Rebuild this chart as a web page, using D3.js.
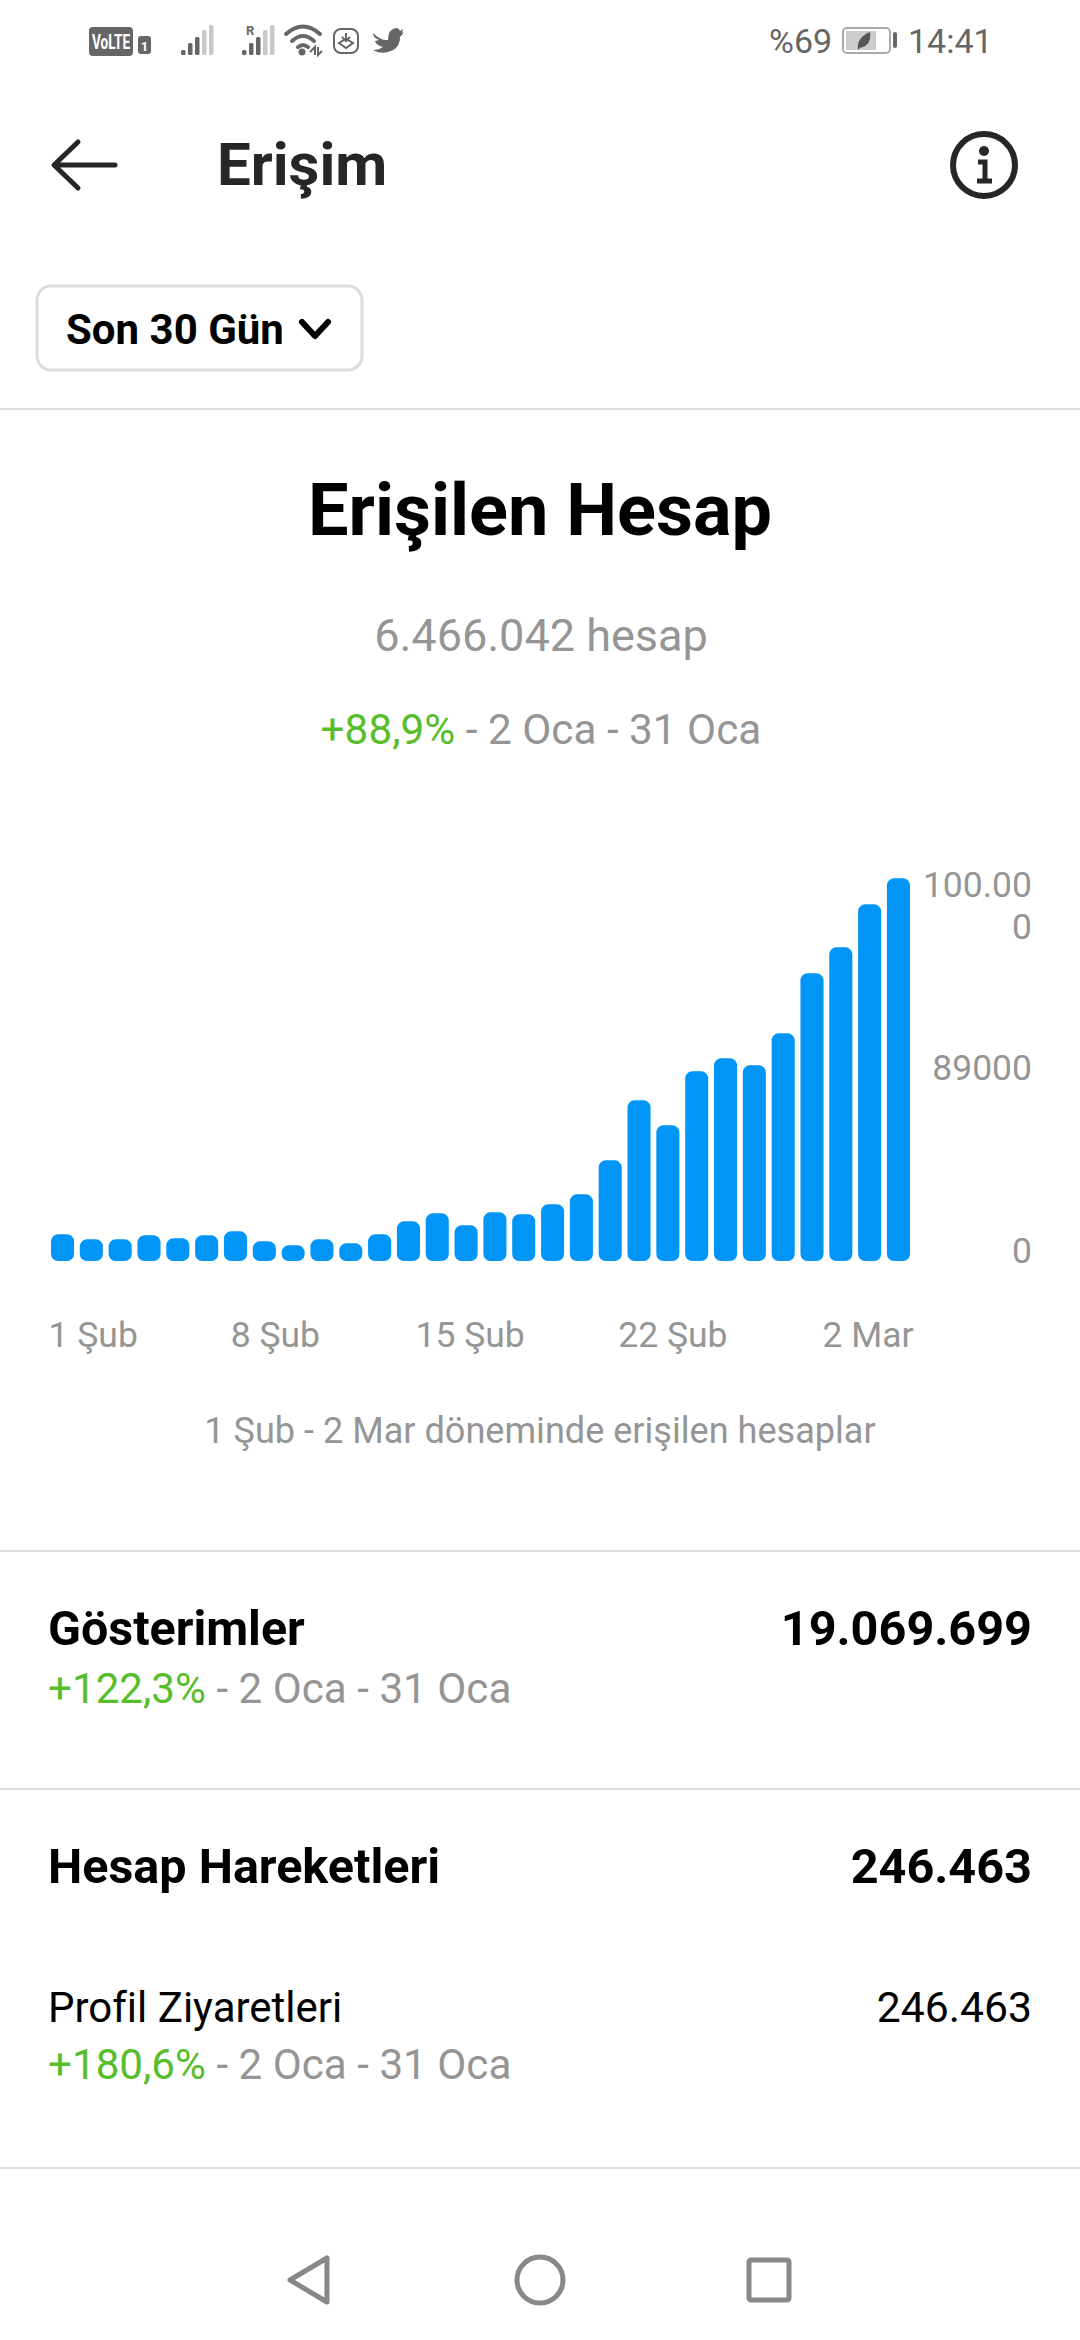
<!DOCTYPE html>
<html lang="tr">
<head>
<meta charset="utf-8">
<title>Erişim</title>
<script src="https://cdn.jsdelivr.net/npm/d3@7"></script>
<style>
  html, body { margin: 0; padding: 0; background: #fff; }
  svg { display: block; font-family: Roboto, sans-serif; }
  .gray { fill: #959595; }
  .green { fill: #58bd2a; }
  .axis path, .axis line { display: none; }
  .axis text { fill: #959595; font-size: 35.5px; font-family: Roboto, sans-serif; }
</style>
</head>
<body>
<div id="chart"></div>
<script>
// degerler
const days = ["1 Şub","2 Şub","3 Şub","4 Şub","5 Şub","6 Şub","7 Şub","8 Şub","9 Şub","10 Şub",
  "11 Şub","12 Şub","13 Şub","14 Şub","15 Şub","16 Şub","17 Şub","18 Şub","19 Şub","20 Şub",
  "21 Şub","22 Şub","23 Şub","24 Şub","25 Şub","26 Şub","27 Şub","28 Şub","1 Mar","2 Mar"];
const reach = [12970,10540,10540,12480,11020,12480,14430,9560,7620,10540,
  8590,12970,19290,23180,17340,23670,22690,27560,32420,48950,
  78130,65970,92230,98560,95150,110710,139890,152530,173450,186090];
const xTicks = ["1 Şub","8 Şub","15 Şub","22 Şub","2 Mar"];
const yTicks = [0,89000,178000];
const yLabels = ["0","89000","100.000"];

const width = 1080, height = 2340;
const svg = d3.select("#chart").append("svg")
  .attr("width", width).attr("height", height);

const x = d3.scaleBand().domain(days).range([51,910]).paddingInner(0.2);
const y = d3.scaleLinear().domain([0,178000]).range([1261,895]);

function label(txt, px, py, size, opts = {}) {
  return svg.append("text").attr("x", px).attr("y", py)
    .attr("font-size", size)
    .attr("font-weight", opts.weight || 400)
    .attr("fill", opts.fill || "#000")
    .attr("text-anchor", opts.anchor || "start")
    .text(txt);
}

function delta(pct, px, py, size, anchor) {
  const t = svg.append("text").attr("x", px).attr("y", py).attr("font-size", size)
    .attr("text-anchor", anchor || "start");
  t.append("tspan").attr("class", "green").text(pct);
  t.append("tspan").attr("class", "gray").text(" - 2 Oca - 31 Oca");
  return t;
}

// bolme cizgileri
[409,1551,1789,2168].forEach(d => {
  svg.append("line").attr("x1",0).attr("x2",width).attr("y1",d).attr("y2",d)
    .attr("stroke","#dcdcdc").attr("stroke-width",2);
});

// durum cubugu
const sb = svg.append("g").attr("fill","#666");
sb.append("rect").attr("x",89).attr("y",27).attr("width",44).attr("height",29).attr("rx",4);
sb.append("text").attr("transform","translate(111,49) scale(0.68,1)").attr("font-size",20).attr("font-weight",700)
  .attr("fill","#fff").attr("text-anchor","middle").text("VoLTE");
sb.append("rect").attr("x",138).attr("y",36).attr("width",13).attr("height",18).attr("rx",3);
sb.append("text").attr("x",144.5).attr("y",51).attr("font-size",13).attr("font-weight",700)
  .attr("fill","#fff").attr("text-anchor","middle").text("1");
function signal(x0) {
  [5,12,18,25,30].forEach((h,i) => {
    sb.append("rect").attr("x",x0+i*7).attr("y",55-h).attr("width",4.5).attr("height",h).attr("rx",1.5)
      .attr("fill", i < 3 ? "#666" : "#c8c8c8");
  });
}
signal(181); signal(242);
sb.append("text").attr("x",246).attr("y",35).attr("font-size",13).attr("font-weight",700).text("R");
const wifi = svg.append("g").attr("fill","none").attr("stroke","#666").attr("stroke-width",4).attr("stroke-linecap","round");
["M286 34 Q303 19 320 34","M292 41 Q303 31 314 41","M298 47 Q303 43 308 47"].forEach(p => wifi.append("path").attr("d",p));
svg.append("circle").attr("cx",302).attr("cy",52).attr("r",3.5).attr("fill","#666");
svg.append("path").attr("d","M310 52 L315 47 V55 M318 47 V55 L322 51").attr("fill","none").attr("stroke","#666").attr("stroke-width",2);
svg.append("rect").attr("x",334).attr("y",29).attr("width",24).attr("height",24).attr("rx",7)
  .attr("fill","none").attr("stroke","#666").attr("stroke-width",2);
svg.append("path").attr("d","M339 43 L346 48 L353 43 L346 39 Z M346 33 V40 M342 37 L346 41 L350 37").attr("fill","none").attr("stroke","#666").attr("stroke-width",2);
svg.append("path").attr("d","M373 33 Q381 41 388 40 Q388 29 396 28 Q399 28 400 31 L403 29 L402 33 L404 32 Q402 35 400 37 Q400 49 388 52 Q379 54 373 50 Q379 50 383 47 Q376 45 375 41 L379 40 Q373 38 373 33 Z").attr("fill","#666");

label("%69", 769, 53, 34, {fill:"#666"});
svg.append("rect").attr("x",843).attr("y",28).attr("width",47).attr("height",25).attr("rx",4)
  .attr("fill","none").attr("stroke","#aaa").attr("stroke-width",2);
svg.append("rect").attr("x",846).attr("y",31).attr("width",30).attr("height",19).attr("fill","#ccc");
svg.append("path").attr("d","M858 50 Q856 38 870 32 Q872 45 860 48 Z").attr("fill","#555");
svg.append("rect").attr("x",893).attr("y",32).attr("width",4).attr("height",16).attr("rx",2).attr("fill","#666");
label("14:41", 908, 53, 34, {fill:"#666"});

// baslik
svg.append("path").attr("d","M115 165 H55 M78 142 L54 165 L78 188")
  .attr("fill","none").attr("stroke","#262626").attr("stroke-width",5).attr("stroke-linecap","round").attr("stroke-linejoin","round");
label("Erişim", 217, 185, 60, {weight:700, fill:"#262626"});
svg.append("circle").attr("cx",984).attr("cy",165).attr("r",31)
  .attr("fill","none").attr("stroke","#262626").attr("stroke-width",6);
svg.append("circle").attr("cx",984).attr("cy",151).attr("r",5).attr("fill","#262626");
svg.append("path").attr("d","M978 162 H985 V181 M977 181 H992").attr("fill","none").attr("stroke","#262626").attr("stroke-width",5);

// tarih secici
svg.append("rect").attr("x",37).attr("y",286).attr("width",325).attr("height",84).attr("rx",14)
  .attr("fill","#fff").attr("stroke","#dcdcdc").attr("stroke-width",3);
label("Son 30 Gün", 66, 344, 42, {weight:700});
svg.append("path").attr("d","M302 322 L315 336 L328 322").attr("fill","none")
  .attr("stroke","#000").attr("stroke-width",6).attr("stroke-linecap","round").attr("stroke-linejoin","round");

// ust ozet
label("Erişilen Hesap", 540, 535, 72, {weight:700, anchor:"middle"});
label("6.466.042 hesap", 541, 651, 45, {fill:"#959595", anchor:"middle"});
delta("+88,9%", 541, 744, 42.3, "middle");

// barlar
svg.append("g").selectAll("rect").data(days).join("rect")
  .attr("x", d => x(d))
  .attr("y", (d,i) => y(reach[i]))
  .attr("width", x.bandwidth())
  .attr("height", (d,i) => y(0) - y(reach[i]))
  .attr("rx", 7)
  .attr("fill", "#0095f6");

// y ekseni
const yAxis = svg.append("g").attr("class","axis").attr("transform","translate(1032,-10)")
  .call(d3.axisLeft(y).tickValues(yTicks).tickSize(0).tickPadding(0).tickFormat((d,i) => yLabels[i]));
// 100.000 iki satira kirildi
yAxis.selectAll("text").filter((d,i) => i === 2).each(function() {
  const t = d3.select(this).text(null);
  t.append("tspan").attr("x",0).attr("dy","0.32em").text("100.00");
  t.append("tspan").attr("x",0).attr("dy","1.18em").text("0");
}).attr("dy",null);

// x ekseni
const xAxis = svg.append("g").attr("class","axis").attr("transform","translate(0,1347)")
  .call(d3.axisBottom(x).tickValues(xTicks).tickSize(0).tickPadding(0));
xAxis.selectAll("text").attr("dy",0)
  .attr("text-anchor",(d,i) => i === 0 ? "start" : i === 4 ? "end" : "middle")
  .attr("dx",(d,i) => i === 0 ? -14 : i === 4 ? 15 : [0,11,4,5][i]);

label("1 Şub - 2 Mar döneminde erişilen hesaplar", 540, 1443, 36.1, {fill:"#959595", anchor:"middle"});

// alt bolumler
label("Gösterimler", 48, 1645, 48.4, {weight:700});
label("19.069.699", 1032, 1645, 48.6, {weight:700, anchor:"end"});
delta("+122,3%", 48, 1703, 42.2);
label("Hesap Hareketleri", 48, 1883, 48.5, {weight:700});
label("246.463", 1032, 1883, 48.6, {weight:700, anchor:"end"});
label("Profil Ziyaretleri", 48, 2022, 42);
label("246.463", 1032, 2022, 42.7, {anchor:"end"});
delta("+180,6%", 48, 2079, 42.2);

// gezinme cubugu
const nav = svg.append("g").attr("fill","none").attr("stroke","#888").attr("stroke-width",5).attr("stroke-linejoin","round");
nav.append("path").attr("d","M327 2258 L327 2302 L290 2280 Z");
nav.append("circle").attr("cx",540).attr("cy",2280).attr("r",23);
nav.append("rect").attr("x",749).attr("y",2260).attr("width",40).attr("height",40).attr("rx",2);
</script>
</body>
</html>
